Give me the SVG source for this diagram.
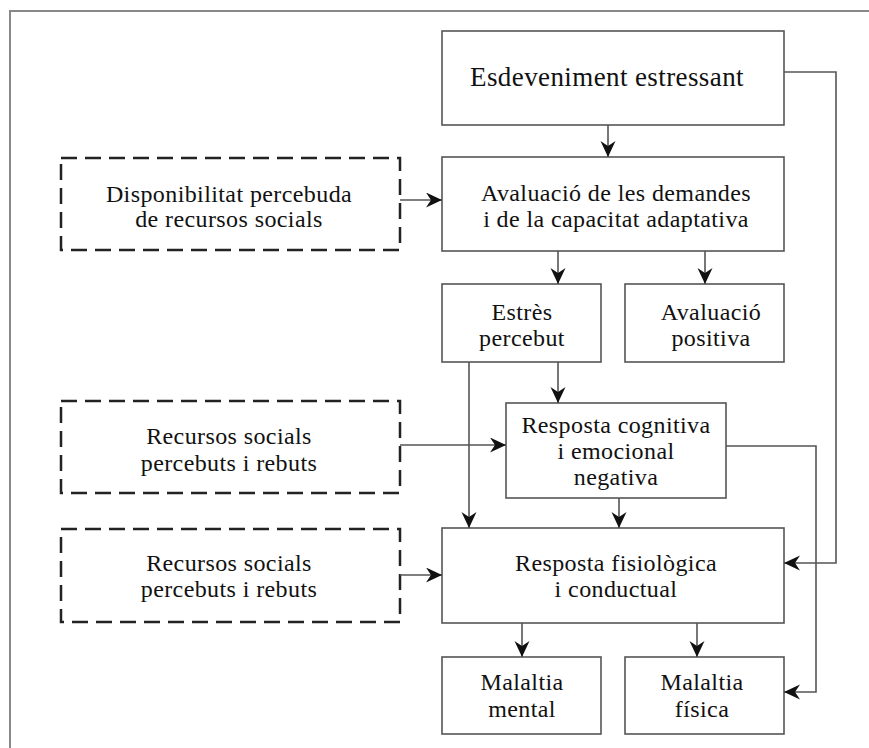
<svg xmlns="http://www.w3.org/2000/svg" width="869" height="748" viewBox="0 0 869 748">
<style>
.box{fill:#fff;stroke:#555;stroke-width:1.6}
.dbox{fill:#fff;stroke:#222;stroke-width:2.5;stroke-dasharray:16 8}
.t{font-family:"Liberation Serif","Times New Roman",serif;font-size:24px;fill:#111;text-anchor:middle;letter-spacing:0.4px}
.big{font-size:27px}
.c{fill:none;stroke:#555;stroke-width:1.6}
</style>
<defs>
<marker id="ah" markerUnits="userSpaceOnUse" markerWidth="18" markerHeight="16" refX="16" refY="7.5" orient="auto">
<path d="M0,0 L16,7.5 L0,15 L5,7.5 Z" fill="#111"/>
</marker>
</defs>
<rect x="10" y="11" width="880" height="760" fill="#fff" stroke="#888" stroke-width="2"/>
<g id="n-esdeveniment">
<rect class="box" x="442" y="31" width="342" height="94"/>
<text class="t big" x="607" y="86">Esdeveniment estressant</text>
</g>
<g id="n-disponibilitat">
<rect class="dbox" x="61" y="158" width="339" height="92"/>
<text class="t" x="229" y="202">Disponibilitat percebuda</text>
<text class="t" x="229" y="227">de recursos socials</text>
</g>
<g id="n-avaluacio">
<rect class="box" x="442" y="157" width="342" height="94"/>
<text class="t" x="616" y="201">Avaluació  de les demandes</text>
<text class="t" x="616" y="227">i de la capacitat adaptativa</text>
</g>
<g id="n-estres">
<rect class="box" x="442" y="284" width="159" height="78"/>
<text class="t" x="522" y="320">Estrès</text>
<text class="t" x="522" y="346">percebut</text>
</g>
<g id="n-positiva">
<rect class="box" x="625" y="284" width="159" height="78"/>
<text class="t" x="711" y="320">Avaluació</text>
<text class="t" x="711" y="346">positiva</text>
</g>
<g id="n-recursos1">
<rect class="dbox" x="61" y="401" width="339" height="92"/>
<text class="t" x="229" y="444">Recursos socials</text>
<text class="t" x="229" y="471">percebuts  i rebuts</text>
</g>
<g id="n-cognitiva">
<rect class="box" x="506" y="403" width="220" height="95"/>
<text class="t" x="616" y="433">Resposta cognitiva</text>
<text class="t" x="616" y="459">i emocional</text>
<text class="t" x="616" y="485">negativa</text>
</g>
<g id="n-recursos2">
<rect class="dbox" x="61" y="529" width="339" height="93"/>
<text class="t" x="229" y="571">Recursos socials</text>
<text class="t" x="229" y="597">percebuts  i rebuts</text>
</g>
<g id="n-fisiologica">
<rect class="box" x="442" y="528" width="342" height="95"/>
<text class="t" x="616" y="571">Resposta  fisiològica</text>
<text class="t" x="616" y="597">i conductual</text>
</g>
<g id="n-mental">
<rect class="box" x="442" y="657" width="159" height="77"/>
<text class="t" x="522" y="690">Malaltia</text>
<text class="t" x="522" y="717">mental</text>
</g>
<g id="n-fisica">
<rect class="box" x="625" y="657" width="159" height="77"/>
<text class="t" x="702" y="690">Malaltia</text>
<text class="t" x="702" y="717">física</text>
</g>
<g id="connectors">
<path class="c" d="M608,125 V157" marker-end="url(#ah)"/>
<path class="c" d="M784,72 H836 V563 H784" marker-end="url(#ah)"/>
<path class="c" d="M400,200 H442" marker-end="url(#ah)"/>
<path class="c" d="M558,251 V284" marker-end="url(#ah)"/>
<path class="c" d="M705,251 V284" marker-end="url(#ah)"/>
<path class="c" d="M469,362 V528" marker-end="url(#ah)"/>
<path class="c" d="M558,362 V403" marker-end="url(#ah)"/>
<path class="c" d="M400,445 H506" marker-end="url(#ah)"/>
<path class="c" d="M619,498 V528" marker-end="url(#ah)"/>
<path class="c" d="M726,446 H816 V692 H784" marker-end="url(#ah)"/>
<path class="c" d="M400,575 H442" marker-end="url(#ah)"/>
<path class="c" d="M522,623 V657" marker-end="url(#ah)"/>
<path class="c" d="M697,623 V657" marker-end="url(#ah)"/>
</g>
</svg>
